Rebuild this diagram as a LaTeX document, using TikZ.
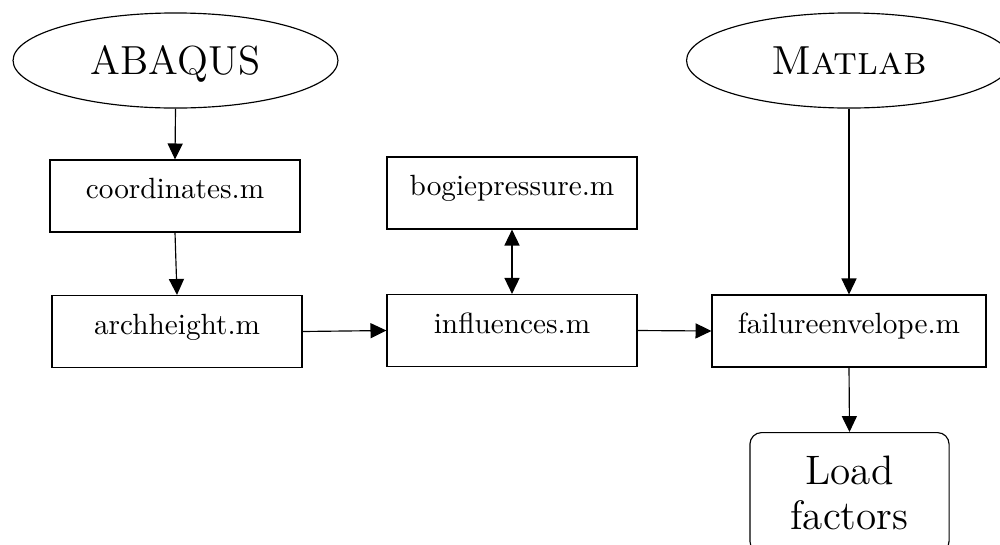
\documentclass[tikz,border=0pt]{standalone}
\usetikzlibrary{shapes.geometric,arrows.meta}
\begin{document}
\begin{tikzpicture}[x=0.345pt,y=-0.345pt,
  box/.style={draw, rectangle, minimum width=86.25pt, minimum height=24.84pt, text height=7pt, text depth=5.28pt, inner sep=0pt, font=\fontsize{10.1}{12}\selectfont},
  oval/.style={draw, ellipse, minimum width=112.1pt, minimum height=32.8pt, inner sep=0pt, font=\fontsize{14}{16}\selectfont, text depth=0pt},
  arr/.style={-{Triangle[length=5.5pt,width=5.2pt]}},
  darr/.style={{Triangle[length=5.5pt,width=5.2pt]}-{Triangle[length=5.5pt,width=5.2pt]}}]
\useasboundingbox (0,0) rectangle (1000,544);
\node[oval] (abaqus) at (175.5,60.5) {ABAQUS};
\node[oval] (matlab) at (849,60.5) {\textsc{Matlab}};
\node[box] (coord) at (175,196) {coordinates.m};
\node[box] (arch) at (177,331.5) {archheight.m};
\node[box] (bogie) at (512,193) {bogiepressure.m};
\node[box] (infl) at (512,330.5) {influences.m};
\node[box, minimum width=94.5pt] (fail) at (849,331) {failureenvelope.m};
\node[draw, rounded corners=4pt, anchor=north, minimum width=68.7pt, inner xsep=0pt, inner ysep=8pt, align=center, font=\fontsize{14.2}{15.5}\selectfont] (load) at (849.5,432) {Load\\factors};
\draw[arr] (abaqus.south) -- (coord.north);
\draw[arr] (coord.south) -- (arch.north);
\draw[arr] (arch.east) -- (infl.west);
\draw[darr] (bogie.south) -- (infl.north);
\draw[arr] (infl.east) -- (fail.west);
\draw[arr] (matlab.south) -- (fail.north);
\draw[arr] (fail.south) -- (load.north);
\end{tikzpicture}
\end{document}
